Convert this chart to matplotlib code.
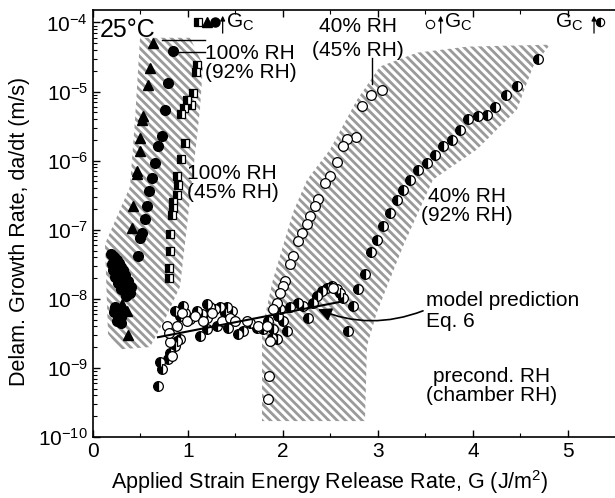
import numpy as np
import matplotlib
matplotlib.use("Agg")
from matplotlib import pyplot as plt
from matplotlib.patches import Polygon

plt.rcParams['font.family'] = ['Liberation Sans', 'DejaVu Sans']
plt.rcParams['mathtext.fontset'] = 'custom'
plt.rcParams['mathtext.rm'] = 'Liberation Sans'
plt.rcParams['mathtext.it'] = 'Liberation Sans:italic'
plt.rcParams['hatch.linewidth'] = 2.0

# --- data: G (J/m^2) and da/dt (m/s) ---
# 100% RH, filled triangles
tri_G = [0.635, 0.60, 0.582, 0.529, 0.513, 0.495, 0.495, 0.46, 0.46, 0.424,
         0.407, 0.266, 0.302, 0.266, 0.355, 0.372, 0.25]
tri_rate = [5.0e-5, 2.19e-5, 1.26e-5, 4.38e-6, 3.93e-6, 2.13e-6, 1.37e-6, 7.0e-7,
            6.3e-7, 2.19e-7, 1.07e-7, 3.72e-8, 8.3e-9, 6.4e-9, 6.7e-9, 3.0e-9, 2.6e-8]

# 100% RH, filled circles
dot_G = [0.845, 0.793, 0.758, 0.723, 0.687, 0.653, 0.618, 0.593, 0.565, 0.547,
         0.513, 0.495, 0.477, 0.214,
         0.19, 0.22, 0.25, 0.20, 0.24, 0.27, 0.30, 0.21, 0.25, 0.28, 0.32, 0.23,
         0.27, 0.30, 0.34, 0.26, 0.30, 0.34, 0.37, 0.29, 0.33, 0.37, 0.40, 0.35,
         0.39, 0.22, 0.26, 0.30, 0.25, 0.29, 0.284, 0.23, 0.31]
dot_rate = [3.81e-5, 1.33e-5, 5.47e-6, 2.25e-6, 1.62e-6, 9.3e-7, 5.6e-7, 3.6e-7,
            2.19e-7, 1.41e-7, 9.1e-8, 7.7e-8, 4.15e-8, 4.15e-8,
            4.5e-8, 4.0e-8, 3.6e-8, 3.2e-8, 3.0e-8, 3.3e-8, 2.9e-8, 2.6e-8, 2.5e-8,
            2.4e-8, 2.6e-8, 2.1e-8, 2.0e-8, 2.1e-8, 2.2e-8, 1.7e-8, 1.6e-8, 1.7e-8,
            1.8e-8, 1.4e-8, 1.3e-8, 1.4e-8, 1.5e-8, 1.1e-8, 1.2e-8, 6.5e-9, 6.0e-9,
            5.5e-9, 4.8e-9, 4.4e-9, 4.9e-9, 7.5e-9, 6.8e-9]

# 100% RH, half-filled squares
sq_G = [1.095, 1.079, 1.056, 0.986, 1.032, 0.958, 0.926, 0.968, 0.926, 0.884,
        0.898, 0.884, 0.845, 0.842, 0.828, 0.811, 0.811, 0.803, 0.803]
sq_rate = [2.45e-5, 1.94e-5, 9.5e-6, 7.6e-6, 6.3e-6, 5.7e-6, 4.8e-6, 1.81e-6,
           1.04e-6, 5.95e-7, 4.5e-7, 3.13e-7, 2.48e-7, 2.03e-7, 1.61e-7, 8.8e-8,
           5.0e-8, 2.82e-8, 1.98e-8]

# 40% RH, open circles
open_G = [3.039, 2.926, 2.835, 2.765, 2.671, 2.635, 2.565, 2.495, 2.442, 2.372,
          2.337, 2.284, 2.249, 2.197, 2.161, 2.108, 2.074, 2.021, 1.997, 1.968,
          1.934, 1.898, 1.856, 1.847,
          0.881, 0.934, 0.986, 1.074, 1.161, 1.249, 1.355, 1.442, 1.495, 1.618,
          1.740, 1.828, 1.863, 0.811, 0.776, 0.803, 0.828, 2.53]
open_rate = [1.04e-5, 9.0e-6, 6.1e-6, 2.21e-6, 2.07e-6, 1.62e-6, 9.5e-7, 5.95e-7,
             4.78e-7, 2.74e-7, 2.19e-7, 1.57e-7, 1.19e-7, 9.06e-8, 6.85e-8, 4.15e-8,
             3.15e-8, 1.81e-8, 1.52e-8, 1.2e-8, 8.6e-9, 7.05e-9, 7.6e-10, 3.5e-10,
             4.05e-9, 6.3e-9, 4.78e-9, 5.64e-9, 4.78e-9, 6.3e-9, 4.78e-9, 5.35e-9,
             4.78e-9, 4.78e-9, 4.05e-9, 4.05e-9, 2.46e-9, 2.35e-9, 4.05e-9, 3.25e-9,
             1.49e-9, 1.45e-8]

# 40% RH, half-filled circles
half_G = [4.687, 4.466, 4.347, 4.232, 4.144, 4.056, 3.951, 3.863, 3.776, 3.687,
          3.600, 3.513, 3.424, 3.337, 3.266, 3.197, 3.126, 3.056, 2.986, 2.923,
          2.863, 2.793, 2.734, 2.687,
          0.684, 0.705, 0.723, 0.793, 0.811, 0.863, 0.916, 0.881,
          0.863, 0.916, 0.968, 1.021, 1.092, 1.144, 1.197, 1.232, 1.284, 1.337,
          1.389, 1.460, 1.126, 1.197, 1.302, 1.424, 1.529, 1.582, 1.653, 1.723,
          1.793, 1.845, 1.898, 1.881, 1.934, 1.951, 2.003, 2.039, 2.074, 2.161,
          2.214, 2.266, 2.319, 2.355, 2.407, 2.460, 2.513, 2.565, 2.6, 2.635,
          0.951, 1.197, 1.407, 1.968]
half_rate = [2.96e-5, 1.19e-5, 8.8e-6, 5.98e-6, 4.63e-6, 4.38e-6, 4.02e-6, 2.81e-6,
             2.02e-6, 1.62e-6, 1.22e-6, 9.3e-7, 7.4e-7, 5.3e-7, 3.8e-7, 2.65e-7,
             1.76e-7, 1.13e-7, 7.2e-8, 4.74e-8, 2.26e-8, 1.37e-8, 7.8e-9, 3.43e-9,
             5.5e-10, 1.20e-9, 9.6e-10, 1.34e-9, 1.67e-9, 2.08e-9, 2.60e-9, 2.46e-9,
             6.7e-9, 5.64e-9, 6.3e-9, 5.06e-9, 6.7e-9, 5.97e-9, 5.35e-9, 7.5e-9,
             7.05e-9, 7.5e-9, 6.3e-9, 6.7e-9, 2.90e-9, 3.62e-9, 4.05e-9, 3.84e-9,
             3.07e-9, 3.43e-9, 4.53e-9, 3.84e-9, 3.62e-9, 4.78e-9, 3.62e-9, 2.75e-9,
             2.60e-9, 5.64e-9, 4.78e-9, 3.43e-9, 7.5e-9, 8.8e-9, 7.9e-9, 5.35e-9,
             8.8e-9, 1.10e-8, 1.30e-8, 1.45e-8, 1.53e-8, 1.37e-8, 1.23e-8, 1.04e-8,
             7.9e-9, 8.3e-9, 7.5e-9, 7.05e-9]

# model prediction (Eq. 6) end points
model_G = [0.684, 2.632]
model_rate = [2.78e-9, 9.2e-9]

# hatched envelopes
band1_G = [0.495, 1.021, 1.158, 1.126, 1.021, 0.916, 0.758, 0.60, 0.284, 0.158,
           0.126, 0.389, 0.442]
band1_rate = [6.0e-5, 6.0e-5, 2.45e-5, 5.5e-6, 2.74e-7, 1.5e-8, 5.06e-9, 2.0e-9,
              1.86e-9, 3.1e-9, 6.2e-8, 4.2e-7, 3.9e-6]
band2_G = [1.779, 1.779, 1.895, 2.105, 2.253, 2.495, 2.779, 3.021, 3.411, 3.937,
           4.811, 4.632, 4.463, 4.042, 3.579, 3.263, 2.989, 2.884, 2.863]
band2_rate = [1.70e-10, 3.6e-9, 1.91e-8, 1.78e-7, 5.3e-7, 1.45e-6, 7.6e-6, 2.3e-5,
              3.65e-5, 4.46e-5, 4.77e-5, 2.29e-5, 5.47e-6, 1.45e-6, 5.3e-7, 5.7e-8,
              6.4e-9, 2.06e-9, 1.70e-10]

fig = plt.figure(figsize=(6.15, 4.98), dpi=100)
ax = fig.add_axes([93 / 615, 1 - 437 / 498, 522 / 615, 427 / 498])
ax.set_yscale('log')
ax.set_xlim(0, 5.495)
ax.set_ylim(1e-10, 10 ** -3.82)

for bg, br in [(band1_G, band1_rate), (band2_G, band2_rate)]:
    poly = Polygon(np.column_stack([bg, br]), closed=True, facecolor='none',
                   edgecolor='#9a9a9a', linewidth=0, hatch='\\\\\\\\', zorder=1)
    ax.add_patch(poly)

ms = 7
ax.plot(half_G, half_rate, 'o', ms=ms, mec='black', mfc='black', fillstyle='left',
        markerfacecoloralt='white', mew=0.9, zorder=3)
ax.plot(open_G, open_rate, 'o', ms=ms, mec='black', mfc='white', mew=0.9, zorder=3)
ax.plot(model_G, model_rate, '-', color='black', lw=1.5, zorder=4)
ax.plot(sq_G, sq_rate, 's', ms=5.5, mec='black', mfc='black', fillstyle='left',
        markerfacecoloralt='white', mew=0.9, zorder=3)
ax.plot(dot_G, dot_rate, 'o', ms=ms, color='black', zorder=3)
ax.plot(tri_G, tri_rate, '^', ms=7.5, color='black', zorder=3)

# key markers at the top
ax.plot([1.105], [1.02e-4], 's', ms=5.5, mec='black', mfc='black', fillstyle='left',
        markerfacecoloralt='white', mew=0.9, clip_on=False)
ax.plot([1.20], [1.02e-4], '^', ms=7, color='black', clip_on=False)
ax.plot([1.284], [1.02e-4], 'o', ms=6.5, color='black', clip_on=False)
ax.plot([3.547], [9.6e-5], 'o', ms=6, mec='black', mfc='white', mew=0.8, clip_on=False)
ax.plot([5.337], [1.02e-4], 'o', ms=6, mec='black', mfc='black', fillstyle='left',
        markerfacecoloralt='white', mew=0.8, clip_on=False)

fs = 15
arrow_kw = dict(arrowstyle='-|>', color='black', lw=0.9, mutation_scale=7,
                shrinkA=0, shrinkB=0)
for gx in [1.365, 3.66, 5.274]:
    ax.annotate('', xy=(gx, 1.25e-4), xytext=(gx, 7.0e-5), arrowprops=arrow_kw,
                annotation_clip=False)
ax.text(1.40, 1.0e-4, r'$\mathregular{G_C}$', fontsize=fs, ha='left', va='center')
ax.text(3.70, 1.0e-4, r'$\mathregular{G_C}$', fontsize=fs, ha='left', va='center')
ax.text(5.165, 1.0e-4, r'$\mathregular{G_C}$', fontsize=fs, ha='right', va='center')

ax.text(0.075, 7.8e-5, '25°C', fontsize=18, ha='left', va='center')

ax.text(1.18, 2.57e-5, '100% RH\n(92% RH)', fontsize=fs, ha='left', va='center',
        linespacing=1.0)
ax.plot([0.726, 1.179], [5.6e-5, 5.6e-5], color='black', lw=1)
ax.plot([0.863, 1.179], [3.78e-5, 3.78e-5], color='black', lw=1)

ax.text(0.99, 4.8e-7, '100% RH\n(45% RH)', fontsize=fs, ha='left', va='center',
        linespacing=1.0)

ax.text(2.79, 5.9e-5, '40% RH\n(45% RH)', fontsize=fs, ha='center', va='center',
        linespacing=1.3)
ax.plot([2.937, 2.937], [3.1e-5, 1.3e-5], color='black', lw=1)

ax.text(3.937, 2.24e-7, '40% RH\n(92% RH)', fontsize=fs, ha='center', va='center',
        linespacing=1.0)

ax.text(3.505, 6.6e-9, 'model prediction\nEq. 6', fontsize=fs, ha='left', va='center',
        linespacing=1.15)
ax.annotate('', xy=(2.368, 7.05e-9), xytext=(3.474, 6.7e-9),
            arrowprops=dict(arrowstyle='-|>', color='black', lw=1.2,
                            mutation_scale=20, shrinkA=0, shrinkB=0,
                            connectionstyle='arc3,rad=-0.2'))

ax.text(4.20, 5.4e-10, 'precond. RH\n(chamber RH)', fontsize=fs, ha='center',
        va='center', linespacing=1.0)

ax.set_xlabel('Applied Strain Energy Release Rate, G (J/m$^\\mathregular{2}$)',
              fontsize=15.5)
ax.xaxis.set_label_coords(0.454, -0.074)
ax.set_ylabel('Delam. Growth Rate, da/dt (m/s)', fontsize=15.5)
ax.yaxis.set_label_coords(-0.121, 0.482)

ax.set_xticks([0, 1, 2, 3, 4, 5])
ax.set_xticks(np.arange(0.5, 5.5, 1.0), minor=True)
ax.set_yticks([1e-10, 1e-9, 1e-8, 1e-7, 1e-6, 1e-5, 1e-4])
ax.set_yticklabels([r'$\mathregular{10^{%d}}$' % e for e in range(-10, -3)])
ax.tick_params(axis='both', which='major', direction='in', labelsize=15,
               length=5, width=1, top=True, right=False)
ax.tick_params(axis='both', which='minor', direction='in', length=3, width=0.8,
               top=True, right=False)
ax.tick_params(axis='y', which='minor', labelleft=False)
ax.spines['right'].set_visible(False)
for s in ['left', 'bottom', 'top']:
    ax.spines[s].set_linewidth(1.2)

fig.savefig('out.png', dpi=100)
